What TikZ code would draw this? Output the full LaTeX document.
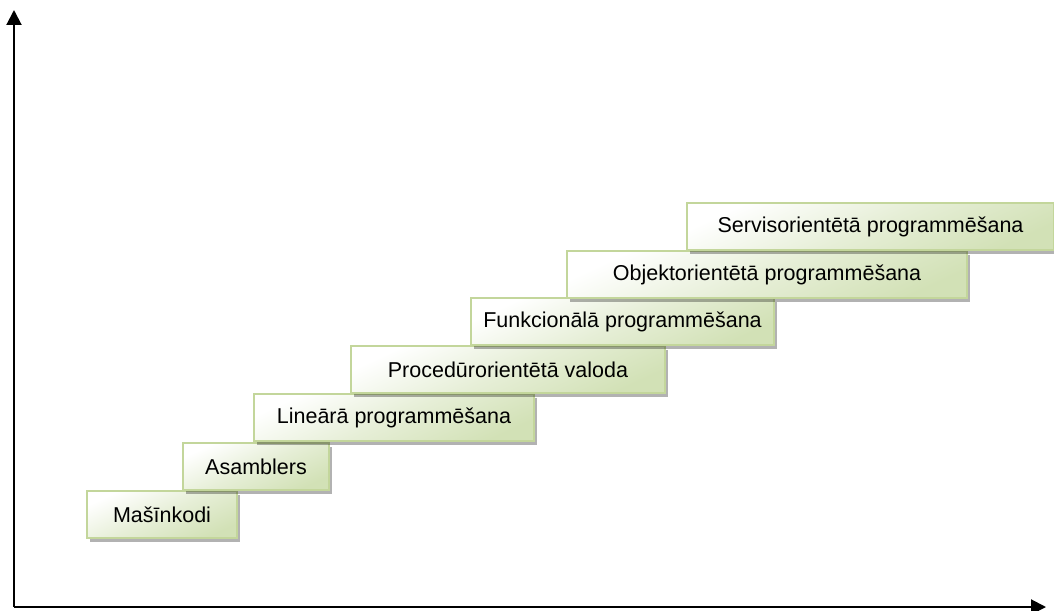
\documentclass[tikz,border=0pt]{standalone}
\usepackage{fontspec}
\setmainfont{Liberation Sans}
\usetikzlibrary{arrows.meta,shadows}
\definecolor{boxgreen}{RGB}{210,225,182}
\definecolor{boxline}{RGB}{195,214,155}
\begin{document}
\begin{tikzpicture}[x=1pt,y=-1pt,
  stepbox/.style={draw=boxline, line width=2pt, top color=white, bottom color=boxgreen,
    middle color=boxgreen!55!white, shading angle=25, anchor=north west,
    minimum height=47pt, inner sep=0pt,
    font=\fontsize{21.5}{25}\selectfont,
    drop shadow={shadow xshift=3pt, shadow yshift=-4pt, fill=black, opacity=0.3}},
  axisline/.style={line width=2pt, -{Triangle[length=15pt,width=15pt]}}]
\useasboundingbox (0,0) rectangle (1054,610);
\node[stepbox, minimum width=150pt] (b1) at (86,490) {Mašīnkodi};
\node[stepbox, minimum width=146pt] (b2) at (182,442) {Asamblers};
\node[stepbox, minimum width=280pt] (b3) at (253,393) {Lineārā programmēšana};
\node[stepbox, minimum width=314pt] (b4) at (350,345) {Procedūrorientētā valoda};
\node[stepbox, minimum width=303pt] (b5) at (470,297) {Funkcionālā programmēšana};
\node[stepbox, minimum width=400pt] (b6) at (566,250) {Objektorientētā programmēšana};
\node[stepbox, minimum width=367pt] (b7) at (686,202) {Servisorientētā programmēšana};
\coordinate (o) at (14,607);
\coordinate (ytop) at (14,10);
\coordinate (xend) at (1046,607);
\draw[axisline] (o) -- (ytop);
\draw[axisline] (o) -- (xend);
\end{tikzpicture}
\end{document}
